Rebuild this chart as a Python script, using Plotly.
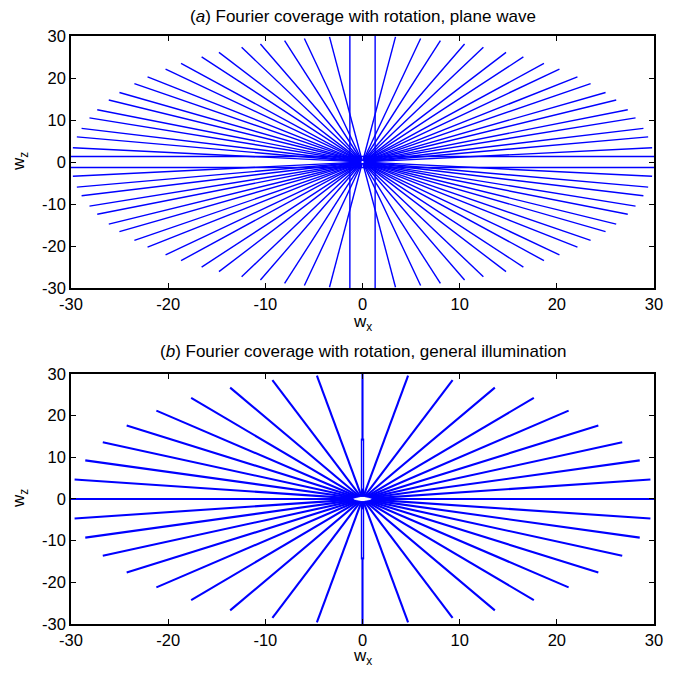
import numpy as np
import plotly.graph_objects as go

# ---- panel (a): plane-wave illumination -----------------------------------
# oblique line directions (deg from +w_x); each direction carries two lines
# splayed by +/- a_spread_deg about it
a_directions = [9, 18, 27, 36, 45, 54, 63, 72, 81,
                99, 108, 117, 126, 135, 144, 153, 162, 171]
a_spread_deg = 2.5
# the two axis-parallel line pairs sit at these offsets
a_axis_offsets = [-1.3, 1.3]
a_inner_gap = 0.25          # small uncovered spot at the origin

# ---- panel (b): general illumination --------------------------------------
b_directions = [0, 9, 18, 27, 36, 45, 54, 63, 72, 81,
                90, 99, 108, 117, 126, 135, 144, 153, 162, 171]
b_hole_half_x = 1.0         # central uncovered ellipse
b_hole_half_z = 0.55
b_loop_extent = 14.5        # narrow loop along the w_z axis

line_radius = 30.0
axis_range = [-30, 30]
tick_vals = [-30, -20, -10, 0, 10, 20, 30]
tick_text = ["-30", "-20", "-10", "0", "10", "20", "30"]

blue = "rgb(0,0,255)"
font = "Liberation Sans, Arial, Helvetica, sans-serif"


def panel_a_lines():
    xs, zs = [], []
    for a in a_directions:
        for s in (-1, 1):
            t = np.deg2rad(a + s * a_spread_deg)
            ux, uz = np.cos(t), np.sin(t)
            for sign in (1, -1):
                xs += [sign * a_inner_gap * ux, sign * line_radius * ux, None]
                zs += [sign * a_inner_gap * uz, sign * line_radius * uz, None]
    for d in a_axis_offsets:
        xs += [-line_radius, line_radius, None, d, d, None]
        zs += [d, d, None, -line_radius, line_radius, None]
    return xs, zs


def panel_b_lines():
    xs, zs = [], []
    for a in b_directions:
        t = np.deg2rad(a)
        ux, uz = np.cos(t), np.sin(t)
        rho = 1.0 / np.sqrt((ux / b_hole_half_x) ** 2 + (uz / b_hole_half_z) ** 2)
        for s in (1, -1):
            xs += [s * rho * ux, s * line_radius * ux, None]
            zs += [s * rho * uz, s * line_radius * uz, None]
    return xs, zs


fig = go.Figure()

ax_a, az_a = panel_a_lines()
fig.add_trace(go.Scatter(x=ax_a, y=az_a, mode="lines",
                         line=dict(color=blue, width=1.4),
                         hoverinfo="skip", showlegend=False,
                         xaxis="x", yaxis="y"))

bx, bz = panel_b_lines()
fig.add_trace(go.Scatter(x=bx, y=bz, mode="lines",
                         line=dict(color=blue, width=2.1),
                         hoverinfo="skip", showlegend=False,
                         xaxis="x2", yaxis="y2"))

# narrow loop along the vertical line: wide outline with a pale interior
loop_x = [0, 0, None, 0, 0]
loop_z = [b_hole_half_z, b_loop_extent, None, -b_hole_half_z, -b_loop_extent]
fig.add_trace(go.Scatter(x=loop_x, y=loop_z, mode="lines",
                         line=dict(color=blue, width=3.4),
                         hoverinfo="skip", showlegend=False,
                         xaxis="x2", yaxis="y2"))
inner_z = [2.5, b_loop_extent - 0.5, None, -2.5, -b_loop_extent + 0.5]
fig.add_trace(go.Scatter(x=loop_x, y=inner_z, mode="lines",
                         line=dict(color="rgb(190,190,255)", width=0.9),
                         hoverinfo="skip", showlegend=False,
                         xaxis="x2", yaxis="y2"))

axis_style = dict(range=axis_range, tickvals=tick_vals, ticktext=tick_text,
                  ticks="inside", ticklen=5, tickwidth=1, tickcolor="black",
                  showline=True, linecolor="black", linewidth=1.6,
                  mirror="ticks", showgrid=False, zeroline=False,
                  tickfont=dict(family=font, size=16.5, color="black"))

fig.update_layout(
    width=673, height=675,
    margin=dict(l=71, r=10, t=36, b=51),
    paper_bgcolor="white", plot_bgcolor="white",
    xaxis=dict(domain=[0, 1], anchor="y", **axis_style),
    yaxis=dict(domain=[0.5714, 1.0], anchor="x", **axis_style),
    xaxis2=dict(domain=[0, 1], anchor="y2", **axis_style),
    yaxis2=dict(domain=[0.0, 0.4252], anchor="x2", **axis_style),
)

title_font = dict(family=font, size=17, color="black")
label_font = dict(family=font, size=17, color="black")
annotations = [
    dict(text="(<i>a</i>) Fourier coverage with rotation, plane wave",
         xref="paper", yref="paper", x=0.5, y=1.0, yshift=20,
         xanchor="center", yanchor="middle", showarrow=False, font=title_font),
    dict(text="(<i>b</i>) Fourier coverage with rotation, general illumination",
         xref="paper", yref="paper", x=0.5, y=0.4252, yshift=22,
         xanchor="center", yanchor="middle", showarrow=False, font=title_font),
    dict(text="w<sub>x</sub>", xref="paper", yref="paper", x=0.5, y=0.5714,
         yshift=-35, xanchor="center", yanchor="middle", showarrow=False,
         font=label_font),
    dict(text="w<sub>x</sub>", xref="paper", yref="paper", x=0.5, y=0.0,
         yshift=-33, xanchor="center", yanchor="middle", showarrow=False,
         font=label_font),
    dict(text="w<sub>z</sub>", xref="paper", yref="paper", x=0.0, y=0.7857,
         xshift=-51, xanchor="center", yanchor="middle", textangle=-90,
         showarrow=False, font=label_font),
    dict(text="w<sub>z</sub>", xref="paper", yref="paper", x=0.0, y=0.2126,
         xshift=-51, xanchor="center", yanchor="middle", textangle=-90,
         showarrow=False, font=label_font),
]
fig.update_layout(annotations=annotations)

fig.write_html("out.html")
